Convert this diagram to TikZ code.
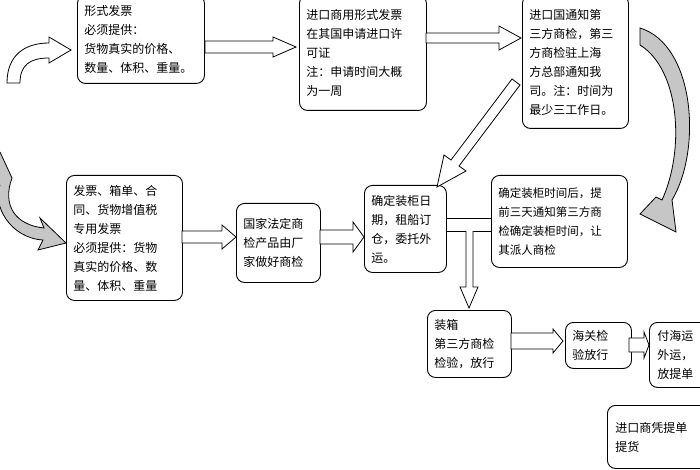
\documentclass[tikz,border=0pt]{standalone}
\usepackage{fontspec}
\setmainfont{Noto Sans CJK SC}
\begin{document}
\begin{tikzpicture}[x=1pt,y=-1pt,
  box/.style={draw,line width=0.9pt,rounded corners=8pt,anchor=north west,align=left,
    inner xsep=7pt,inner ysep=2pt,font=\fontsize{12}{19}\selectfont},
  blk/.style={draw,line width=0.8pt,fill=white,line join=miter},
  gblk/.style={draw,line width=0.8pt,fill=gray!45}]
\useasboundingbox (0,0) rectangle (700,470);
\newcommand\harr[6]{\draw[blk] (#1,{#3-#4}) -- ({#2-#6},{#3-#4}) -- ({#2-#6},{#3-#5}) -- (#2,#3) -- ({#2-#6},{#3+#5}) -- ({#2-#6},{#3+#4}) -- (#1,{#3+#4}) -- cycle;}
% boxes
\node[box,minimum width=127,minimum height=88,text width=113] (A) at (77,-5) {形式发票\\必须提供：\\货物真实的价格、\\数量、体积、重量。};
\node[box,minimum width=127,minimum height=115,text width=113] (B) at (299,-5) {进口商用形式发票\\在其国申请进口许\\可证\\注：申请时间大概\\为一周};
\node[box,minimum width=106,minimum height=133,text width=92] (C) at (522,-5) {进口国通知第\\三方商检，第三\\方商检驻上海\\方总部通知我\\司。注：时间为\\最少三工作日。};
\node[box,minimum width=116,minimum height=125,text width=102] (D) at (66,175) {发票、箱单、合\\同、货物增值税\\专用发票\\必须提供：货物\\真实的价格、数\\量、体积、重量};
\node[box,minimum width=84,minimum height=79,text width=70] (E) at (236,203) {国家法定商\\检产品由厂\\家做好商检};
\node[box,minimum width=82,minimum height=87,text width=68] (F) at (364,185) {确定装柜日\\期，租船订\\仓，委托外\\运。};
\node[box,minimum width=136,minimum height=92,text width=122,font=\fontsize{11.5}{19}\selectfont] (G) at (491,175) {确定装柜时间后，提\\前三天通知第三方商\\检确定装柜时间，让\\其派人商检};
\node[box,minimum width=84,minimum height=67,text width=70] (H) at (427,310) {装箱\\第三方商检\\检验，放行};
\node[box,minimum width=64,minimum height=46,text width=52] (I) at (565,322) {海关检\\验放行};
\node[box,minimum width=80,minimum height=65,text width=64] (J) at (649,322) {付海运\\外运，\\放提单};
\node[box,minimum width=110,minimum height=63,text width=94] (K) at (607,405) {进口商凭提单\\提货};
% block arrows
\harr{205}{296}{47}{6}{10}{23}
\harr{426}{521}{38}{5}{12}{22}
\harr{182}{236}{237}{6}{12}{14}
\harr{320}{364}{237}{7}{15}{11}
\harr{511}{563}{341}{8}{12}{10}
\harr{629}{649}{345}{7}{13}{5}
% C -> F diagonal
\draw[blk] (520,85) -- (459,166) -- (466,171) -- (437,187) -- (444,155) -- (451,160) -- (512,79) -- cycle;
% F -> G lines and F -> H arrow
\draw[line width=0.8pt] (F.east |- 0,218) -- (G.west |- 0,218);
\draw[line width=0.8pt] (F.east |- 0,231) -- (466,231) (473,231) -- (G.west |- 0,231);
\draw[blk] (466,231) -- (466,287) -- (460,287) -- (469,308) -- (478,287) -- (473,287) -- (473,231);
% curved arrows
\draw[blk] (7,83) .. controls (7,55) and (25,43) .. (49,43) -- (49,37) -- (71,50) -- (49,63) -- (49,58) .. controls (30,58) and (20,65) .. (20,83) -- cycle;
\draw[gblk] (640,28) .. controls (695,45) and (702,150) .. (672,200) -- (676,232) -- (640,214) -- (656,197) -- (662,200) .. controls (685,150) and (680,70) .. (640,45) -- cycle;
\draw[gblk] (0,152) -- (12,178) .. controls (2,205) and (15,225) .. (44,228) -- (40,218) -- (66,243) -- (38,250) -- (43,240) .. controls (10,238) and (-8,205) .. (0,185);
\end{tikzpicture}
\end{document}
